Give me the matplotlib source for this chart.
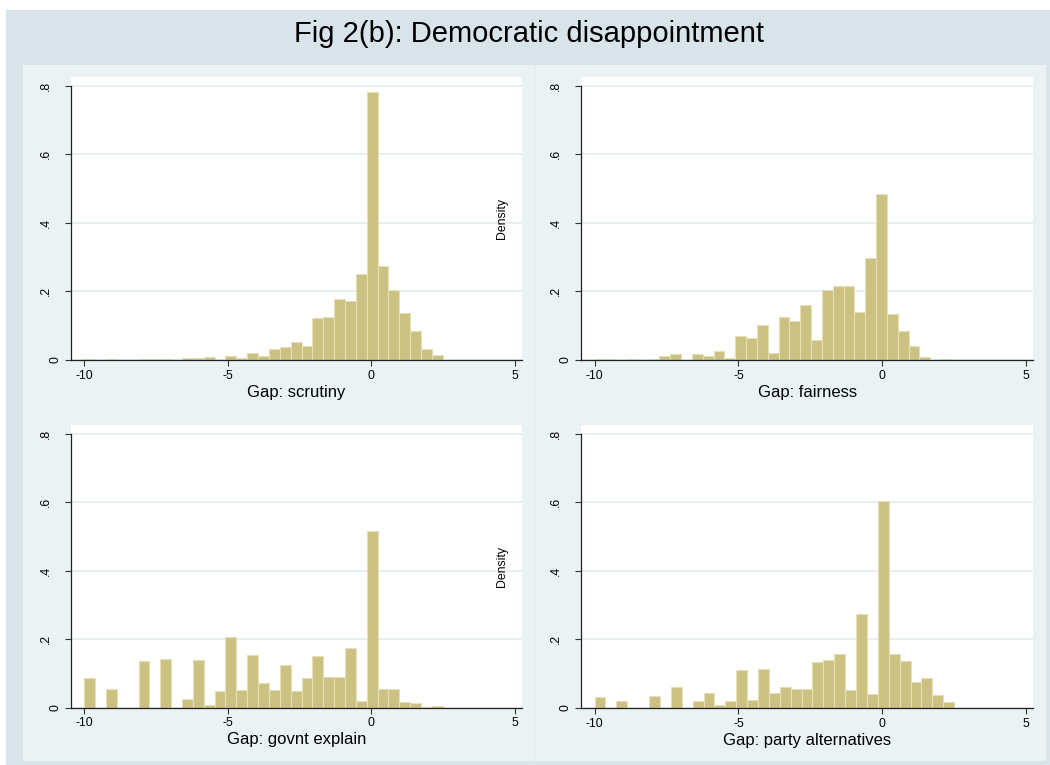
import numpy as np
import matplotlib
matplotlib.use("Agg")
import matplotlib.pyplot as plt
from matplotlib.patches import Rectangle
from matplotlib.lines import Line2D
from matplotlib.transforms import offset_copy

plt.rcParams['font.family'] = ['Liberation Sans', 'DejaVu Sans']

# density per bin, 33 equal bins starting at -10
scrutiny = [0.003, 0, 0.003, 0, 0, 0.003, 0.002, 0.002, 0, 0.007, 0.007, 0.009, 0,
            0.013, 0.006, 0.021, 0.011, 0.031, 0.039, 0.052, 0.041, 0.122, 0.124,
            0.177, 0.173, 0.251, 0.781, 0.273, 0.204, 0.137, 0.085, 0.031, 0.015]
fairness = [0.002, 0.002, 0, 0.002, 0, 0.002, 0.013, 0.017, 0, 0.018, 0.013, 0.026,
            0.006, 0.070, 0.063, 0.102, 0.020, 0.126, 0.115, 0.160, 0.057, 0.205,
            0.217, 0.217, 0.141, 0.298, 0.483, 0.134, 0.084, 0.041, 0.010, 0, 0.002]
govnt_explain = [0.0855, 0, 0.055, 0, 0, 0.136, 0, 0.143, 0, 0.024, 0.138, 0.008,
                 0.049, 0.206, 0.052, 0.153, 0.072, 0.052, 0.124, 0.049, 0.0855,
                 0.151, 0.091, 0.089, 0.173, 0.019, 0.516, 0.055, 0.055, 0.018,
                 0.013, 0.003, 0.005]
party_alt = [0.032, 0, 0.020, 0, 0, 0.035, 0, 0.061, 0, 0.020, 0.045, 0.010, 0.020,
             0.111, 0.024, 0.113, 0.045, 0.061, 0.055, 0.055, 0.133, 0.139, 0.158,
             0.052, 0.275, 0.041, 0.604, 0.158, 0.136, 0.076, 0.086, 0.037, 0.017]

bin_range = {'scrutiny': (-10, 2.5), 'fairness': (-10, 2.42),
             'govnt': (-10, 2.5), 'party': (-10, 2.5)}
xlabels = ['Gap: scrutiny', 'Gap: fairness', 'Gap: govnt explain', 'Gap: party alternatives']
xticks = [-10, -5, 0, 5]
yticks = [0, 0.2, 0.4, 0.6, 0.8]
ytick_labels = ['0', '.2', '.4', '.6', '.8']

W, H = 1050, 765
band_col = '#D9E4EA'
inner_col = '#EAF2F3'
bar_col = '#CBC282'
bar_edge = '#E4DFB8'
grid_col = '#E3ECEE'

fig = plt.figure(figsize=(W / 100, H / 100), dpi=100, facecolor='white')


def px(x0, y0, x1, y1):
    # pixel box (top-left origin) -> figure fraction rect
    return [x0 / W, 1 - y1 / H, (x1 - x0) / W, (y1 - y0) / H]


# background bands, kept under the axes
fig.patches.append(Rectangle((6 / W, 0), 1 - 6 / W, 1 - 10 / H, transform=fig.transFigure,
                             facecolor=band_col, edgecolor='none', zorder=-3))
fig.patches.append(Rectangle((23 / W, 1 - 761 / H), (1046 - 23) / W, (761 - 65) / H,
                             transform=fig.transFigure, facecolor=inner_col,
                             edgecolor='none', zorder=-2))
fig.lines.append(Line2D([534 / W, 534 / W], [1 - 761 / H, 1 - 65 / H], transform=fig.transFigure,
                        color='#E1EAED', lw=1, zorder=-1))

fig.text(529 / W, 1 - 34 / H, 'Fig 2(b): Democratic disappointment', ha='center', va='center',
         fontsize=21, color='black')

boxes = [px(70.7, 77, 521.7, 360), px(581, 77, 1033.3, 360),
         px(70.7, 425, 521.7, 707.7), px(581, 425, 1033.3, 708)]
series = [scrutiny, fairness, govnt_explain, party_alt]
keys = ['scrutiny', 'fairness', 'govnt', 'party']

for i, (box, vals, key, lab) in enumerate(zip(boxes, series, keys, xlabels)):
    ax = fig.add_axes(box)
    ax.set_facecolor('white')
    lo, hi = bin_range[key]
    edges = np.linspace(lo, hi, len(vals) + 1)
    ax.bar(edges[:-1], vals, width=np.diff(edges), align='edge', color=bar_col,
           edgecolor=bar_edge, linewidth=0.8, zorder=2)
    ax.set_xlim(-10.47, 5.25)
    ax.set_ylim(0, 0.825)
    ax.set_xticks(xticks)
    ax.set_xticklabels([str(t) for t in xticks], fontsize=8.8)
    ax.set_yticks(yticks)
    ax.set_yticklabels([])
    ax.yaxis.grid(True, color=grid_col, lw=1.2, zorder=0)
    ax.set_axisbelow(True)
    ax.tick_params(direction='out', length=4, width=0.8, color='#333333', pad=3)
    for s in ['top', 'right']:
        ax.spines[s].set_visible(False)
    ax.spines['left'].set_bounds(0, 0.8)
    for s in ['left', 'bottom']:
        ax.spines[s].set_linewidth(0.9)
        ax.spines[s].set_color('#222222')
    # rotated y tick labels
    for v, t in zip(yticks, ytick_labels):
        gap = -6.5 if t == '0' else -13.5
        tr = offset_copy(ax.get_yaxis_transform(), fig=fig, x=gap, y=0, units='points')
        ax.text(0, v, t, transform=tr, rotation=90, ha='right', va='center', fontsize=8.8)
    ax.set_xlabel(lab, fontsize=12, labelpad=2)
    if i % 2 == 1:
        ax.set_ylabel('Density', fontsize=8.8)
        ax.yaxis.set_label_coords(-0.1615, 0.5)

fig.savefig('out.png', dpi=100, facecolor='white')
